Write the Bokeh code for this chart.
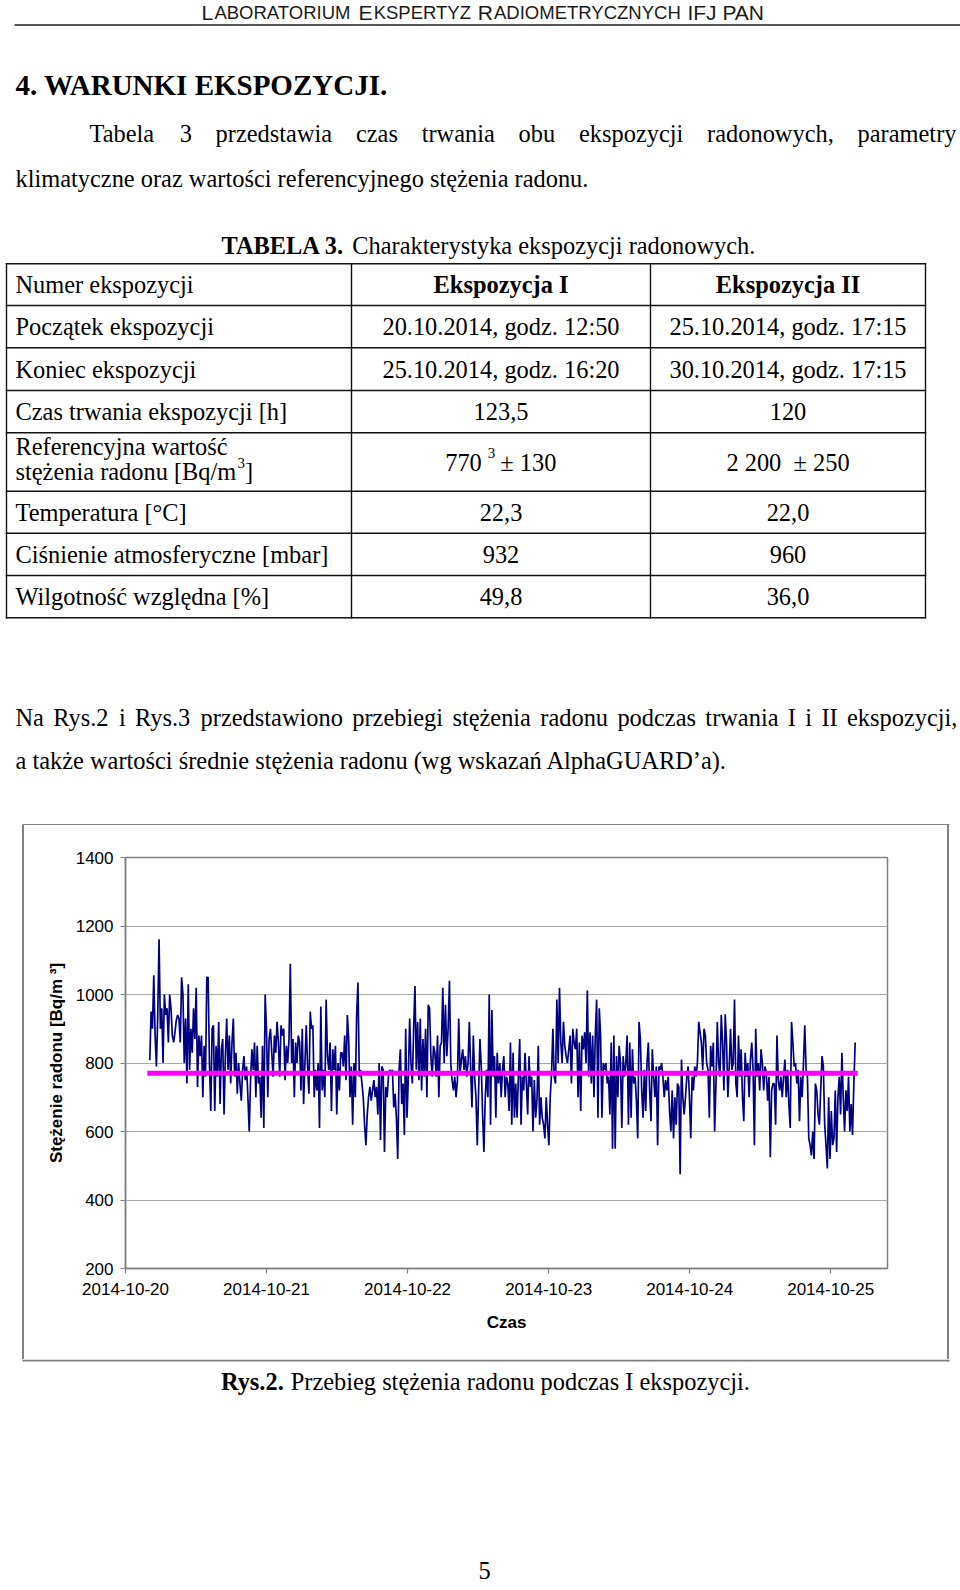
import pandas as pd
from bokeh.plotting import figure
from bokeh.layouts import row
from bokeh.models import Range1d, FixedTicker, DatetimeTickFormatter, Div
from bokeh.core.properties import value
from bokeh.embed import file_html
from bokeh.resources import INLINE

# ---------------- data ----------------
conc = [
    808, 950, 900, 1056, 880, 790, 940, 1161, 900, 960, 800, 1000, 940, 960, 860, 1000, 960, 880, 860, 890,
    925, 940, 930, 860, 1050, 1000, 800, 930, 740, 1030, 780, 900, 830, 960, 870, 1020, 730, 880, 820, 880,
    700, 850, 760, 1050, 1050, 800, 660, 900, 910, 660, 850, 760, 920, 680, 840, 870, 650, 820, 930, 780,
    880, 740, 860, 930, 760, 830, 710, 800, 740, 690, 780, 820, 750, 790, 700, 600, 750, 840, 780, 860,
    700, 850, 740, 760, 640, 850, 610, 1000, 900, 700, 870, 900, 830, 760, 880, 830, 920, 860, 760, 910,
    880, 900, 750, 850, 800, 870, 1090, 800, 870, 700, 860, 800, 880, 860, 720, 900, 680, 800, 910, 790,
    710, 950, 900, 910, 700, 780, 720, 800, 610, 965, 720, 780, 700, 985, 820, 780, 860, 660, 840, 780,
    850, 650, 800, 720, 830, 830, 790, 880, 750, 940, 870, 700, 790, 620, 800, 700, 940, 1035, 760, 780,
    740, 700, 620, 560, 650, 700, 730, 690, 720, 750, 700, 730, 650, 800,
    575, 790, 780, 540, 730, 700, 760, 780, 770, 780, 670, 710, 640, 520, 780, 840, 680, 740, 590, 900,
    640, 760, 930, 800, 740, 900, 1025, 780, 920, 750, 930, 720, 870, 760, 900, 700, 970, 960, 820, 760,
    850, 830, 760, 880, 700, 850, 860, 1020, 800, 970, 820, 900, 1040, 800, 750, 720, 760, 700, 750, 930,
    770, 810, 840, 780, 820, 760, 800, 920, 780, 670, 880, 760, 700, 560, 720, 870, 790, 650, 540, 700,
    780, 700, 1000, 620, 955, 760, 820, 640, 830, 740, 800, 700, 780, 820, 700, 760, 740, 660, 860, 620,
    830, 640, 740, 640, 760, 870, 620, 760, 720, 830, 740, 650, 820, 730, 760, 600, 750, 640, 690, 850,
    620, 700, 640, 620, 580, 700, 620, 560, 700, 770, 900, 760, 740, 985, 800, 1020, 860, 800, 920, 850,
    820, 800, 840, 880, 740, 900, 860, 840, 900, 700, 860, 660, 880, 840, 890, 800, 1012, 760, 890, 740,
    880, 700, 880, 985, 640, 960, 880, 640, 800, 780, 800, 740, 760, 650, 860, 550,
    880, 550, 820, 700, 850, 800, 610, 820, 760, 800, 880, 620, 860, 640, 840, 740, 760, 690, 580, 920,
    870, 720, 640, 780, 660, 800, 860, 720, 630, 840, 760, 700, 790, 560, 790, 780, 800, 760, 700, 750,
    720, 760, 660, 600, 720, 580, 700, 620, 740, 730, 475, 810, 700, 650, 700, 760, 790, 700, 580, 760,
    720, 790, 760, 800, 920, 890, 860, 780, 900, 880, 800, 780, 640, 850, 790, 860, 600, 740, 920, 800,
    760, 940, 860, 720, 942, 860, 700, 790, 900, 780, 800, 985, 740, 700, 880, 760, 840, 700, 630, 830,
    760, 800, 700, 810, 860, 780, 560, 900, 760, 800, 720, 840, 800, 720, 790, 770, 690, 760, 525, 720,
    740, 740, 620, 880, 750, 720, 760, 700, 760, 810, 700, 780, 680, 610, 920, 860, 790, 800, 740, 780,
    630, 760, 700, 800, 910, 780, 760, 580, 560, 530, 600, 520, 740, 720, 650, 620, 720, 820, 790, 620,
    560, 492, 700, 520, 660, 560, 580, 720, 540, 700, 760, 650, 830, 700, 600, 720, 660, 760, 600, 680,
    590, 740, 860,
]
series_start = "2014-10-20 04:08"
series_end = "2014-10-25 04:10"
mean_conc = 770
x_axis_start = "2014-10-20 00:00"
x_axis_end = "2014-10-25 09:40"
x_tick_dates = ["2014-10-20", "2014-10-21", "2014-10-22", "2014-10-23", "2014-10-24", "2014-10-25"]
y_ticks = [200, 400, 600, 800, 1000, 1200, 1400]

row_labels = ["Numer ekspozycji", "Początek ekspozycji", "Koniec ekspozycji",
              "Czas trwania ekspozycji [h]", "Referencyjna wartość|stężenia radonu [Bq/m",
              "Temperatura [°C]", "Ciśnienie atmosferyczne [mbar]", "Wilgotność względna [%]"]
col_exp1 = ["Ekspozycja I", "20.10.2014, godz. 12:50", "25.10.2014, godz. 16:20", "123,5",
            "770", "22,3", "932", "49,8"]
col_exp2 = ["Ekspozycja II", "25.10.2014, godz. 17:15", "30.10.2014, godz. 17:15", "120",
            "2\u00a0200\u00a0\u00a0±\u00a0250", "22,0", "960", "36,0"]

# ---------------- text metrics helpers ----------------
TNR = {}
for chars, w in [("abdghknopquvxy0123456789óń", 500), ("aceząężćź", 444), ("sś", 389),
                 ("frI()[]’'", 333), ("ijltł:/", 278), (" ,.", 250), ("wADGHKNOUVXY", 722),
                 ("BCR", 667), ("ELTZ", 611), ("FPS", 556), ("M", 889), ("W", 944), ("m", 778),
                 ("±", 564), ("°", 400), ("%", 833), ("J", 389)]:
    for ch in chars:
        TNR[ch] = w
TNRB = {"T": 667, "A": 722, "B": 667, "E": 667, "L": 667, " ": 250, ".": 250, "R": 722,
        "y": 500, "s": 389}
for d in "0123456789":
    TNRB[d] = 500
ARIAL = {"A": 667, "B": 667, "C": 722, "D": 722, "E": 667, "F": 611, "H": 722, "I": 278,
         "J": 500, "K": 667, "L": 556, "M": 833, "N": 722, "O": 778, "P": 667, "R": 722,
         "S": 667, "T": 611, "U": 722, "Y": 667, "Z": 611, " ": 278}


def tw(s, size, bold=False):
    tbl = TNRB if bold else TNR
    return sum(tbl.get(ch, 500) for ch in s) * size / 1000.0


SERIF = "Liberation Serif"
SANS = "Liberation Sans"


def put(fig, x, y, s, size, bold=False, align="left", font=SERIF, color="black"):
    fig.text(x=[x], y=[y], text=[s], text_font=value(font), text_font_size=value(f"{size}px"),
             text_font_style="bold" if bold else "normal", text_align=align,
             text_baseline="alphabetic", text_color=color)


def justify(fig, line, xl, xr, y, size):
    words = line.split(" ")
    widths = [tw(w, size) for w in words]
    gap = (xr - xl - sum(widths)) / (len(words) - 1)
    x = xl
    for w, wd in zip(words, widths):
        put(fig, x, y, w, size)
        x += wd + gap


def page_fig(h, y_top, y_bottom):
    f = figure(width=960, height=h, x_range=Range1d(0, 960), y_range=Range1d(y_bottom, y_top),
               output_backend="svg", toolbar_location=None, x_axis_location=None,
               y_axis_location=None, min_border=0, outline_line_color=None)
    f.xgrid.visible = False
    f.ygrid.visible = False
    return f


FS = 24.4
BOX = "#808080"

# ---------------- top part of page (window pixel coordinates) ----------------
top = page_fig(825, 0, 825)

# small-caps running header
BIG, SMALL = 21, 18.5
hx = 201
for s, sz in [("L", BIG), ("ABORATORIUM ", SMALL), ("E", BIG), ("KSPERTYZ ", SMALL),
              ("R", BIG), ("ADIOMETRYCZNYCH ", SMALL), ("IFJ PAN", BIG)]:
    put(top, hx, 12, s.strip(), sz, font=SANS, color="#1a1a1a")
    hx += sum(ARIAL.get(ch, 600) for ch in s) * sz / 1000.0 + 1.2
top.segment(x0=[14], y0=[24.5], x1=[960], y1=[24.5], line_color="#555555", line_width=2)

put(top, 15, 84.5, "4. WARUNKI EKSPOZYCJI.", 29, bold=True)
justify(top, "Tabela 3 przedstawia czas trwania obu ekspozycji radonowych, parametry", 89, 956, 133.3, FS)
put(top, 15, 178, "klimatyczne oraz wartości referencyjnego stężenia radonu.", FS)

# table caption (centered)
cap_b, cap_n = "TABELA 3.", "Charakterystyka ekspozycji radonowych."
wb, wn = tw(cap_b + " ", FS, True), tw(cap_n, FS)
cx0 = 488 - (wb + wn) / 2
put(top, cx0, 245.3, cap_b, FS, bold=True)
put(top, cx0 + wb, 245.3, cap_n, FS)

# table grid
col_x = [6, 351, 650, 925]
row_y = [263.3, 305, 347.3, 390, 432.3, 490.7, 532.7, 575, 617.3]
top.segment(x0=[col_x[0]] * len(row_y), y0=row_y, x1=[col_x[-1]] * len(row_y), y1=row_y,
            line_color="#111111", line_width=1.4, line_cap="square")
top.segment(x0=col_x, y0=[row_y[0]] * len(col_x), x1=col_x, y1=[row_y[-1]] * len(col_x),
            line_color="#111111", line_width=1.4, line_cap="square")

c1 = (col_x[1] + col_x[2]) / 2
c2 = (col_x[2] + col_x[3]) / 2
for i in range(8):
    yb = (row_y[i] + row_y[i + 1]) / 2
    lab = row_labels[i]
    if "|" in lab:
        l1, l2 = lab.split("|")
        put(top, 15, 446.3, l1, FS)
        put(top, 15, 471.4, l2, FS)
        xs = 15 + tw(l2, FS)
        put(top, xs + 1, 462.4, "3", 15)
        put(top, xs + 8.5, 471.4, "]", FS)
        w1, w3 = tw("770", FS), tw("± 130", FS)
        x0 = c1 - (w1 + 6 + 7.5 + 5 + w3) / 2
        put(top, x0, yb, "770", FS)
        put(top, x0 + w1 + 6, yb - 9, "3", 15)
        put(top, x0 + w1 + 18.5, yb, "± 130", FS)
        put(top, c2, yb, col_exp2[i], FS, align="center")
        continue
    put(top, 15, yb, lab, FS)
    put(top, c1, yb, col_exp1[i], FS, bold=(i == 0), align="center")
    put(top, c2, yb, col_exp2[i], FS, bold=(i == 0), align="center")

justify(top, "Na Rys.2 i Rys.3 przedstawiono przebiegi stężenia radonu podczas trwania I i II ekspozycji,",
        15, 957, 717, FS)
put(top, 15, 760, "a także wartości średnie stężenia radonu (wg wskazań AlphaGUARD’a).", FS)
# top edge of the chart box
top.segment(x0=[22], y0=[824.5], x1=[949], y1=[824.5], line_color=BOX, line_width=2)

# ---------------- chart ----------------
t = pd.date_range(series_start, series_end, periods=len(conc))
p = figure(width=923, height=534, x_axis_type="datetime",
           x_range=Range1d(pd.Timestamp(x_axis_start), pd.Timestamp(x_axis_end)),
           y_range=Range1d(200, 1400), output_backend="svg", toolbar_location=None,
           min_border_left=101, min_border_right=60, min_border_top=32, min_border_bottom=91)
p.line(t, conc, line_color="#000080", line_width=1.7)
p.line([t[0], t[-1]], [mean_conc, mean_conc], line_color="#ff00ff", line_width=5, line_cap="square")

p.outline_line_color = "#808080"
p.outline_line_width = 1.5
p.xgrid.visible = False
yt = FixedTicker(ticks=y_ticks)
p.yaxis.ticker = yt
p.ygrid.ticker = yt
p.ygrid.grid_line_color = "#a8a8a8"
p.ygrid.grid_line_width = 1.2
p.xaxis.ticker = FixedTicker(ticks=[pd.Timestamp(d).value // 10**6 for d in x_tick_dates])
fmt = "%Y-%m-%d"
p.xaxis.formatter = DatetimeTickFormatter(days=fmt, hours=fmt, hourmin=fmt, months=fmt,
                                          minutes=fmt, years=fmt)
for ax in (p.xaxis, p.yaxis):
    ax.axis_line_color = "#808080"
    ax.axis_line_width = 1.5
    ax.major_tick_line_color = "#808080"
    ax.major_tick_line_width = 1.2
    ax.major_tick_out = 5
    ax.major_tick_in = 0
    ax.minor_tick_line_color = None
    ax.major_label_text_font = SANS
    ax.major_label_text_font_size = "17px"
    ax.major_label_text_color = "black"
    ax.axis_label_text_font = SANS
    ax.axis_label_text_font_style = "bold"
    ax.axis_label_text_color = "black"
p.yaxis.major_label_standoff = 7
p.xaxis.major_label_standoff = 9
p.yaxis.axis_label = "Stężenie radonu [Bq/m ³]"
p.yaxis.axis_label_text_font_size = "17px"
p.yaxis.axis_label_standoff = 7
p.xaxis.axis_label = "Czas"
p.xaxis.axis_label_text_font_size = "17px"
p.xaxis.axis_label_standoff = 15

left_edge = Div(text="", width=2, height=534, margin=(0, 0, 0, 22),
                styles={"background-color": BOX})
right_edge = Div(text="", width=2, height=534, margin=(0, 0, 0, 0),
                 styles={"background-color": BOX})
middle = row(left_edge, p, right_edge, spacing=0)

# ---------------- bottom of page ----------------
bot = page_fig(231, 1359, 1590)
bot.segment(x0=[22], y0=[1360], x1=[949], y1=[1360], line_color=BOX, line_width=2)
rb, rn = "Rys.2.", "Przebieg stężenia radonu podczas I ekspozycji."
wb2, wn2 = tw(rb + " ", FS, True), tw(rn, FS)
bx0 = 485 - (wb2 + wn2) / 2
put(bot, bx0, 1381, rb, FS, bold=True)
put(bot, bx0 + wb2, 1381, rn, FS)
put(bot, 484, 1570, "5", FS, align="center")

open("out.html", "w").write(file_html([top, middle, bot], INLINE))
